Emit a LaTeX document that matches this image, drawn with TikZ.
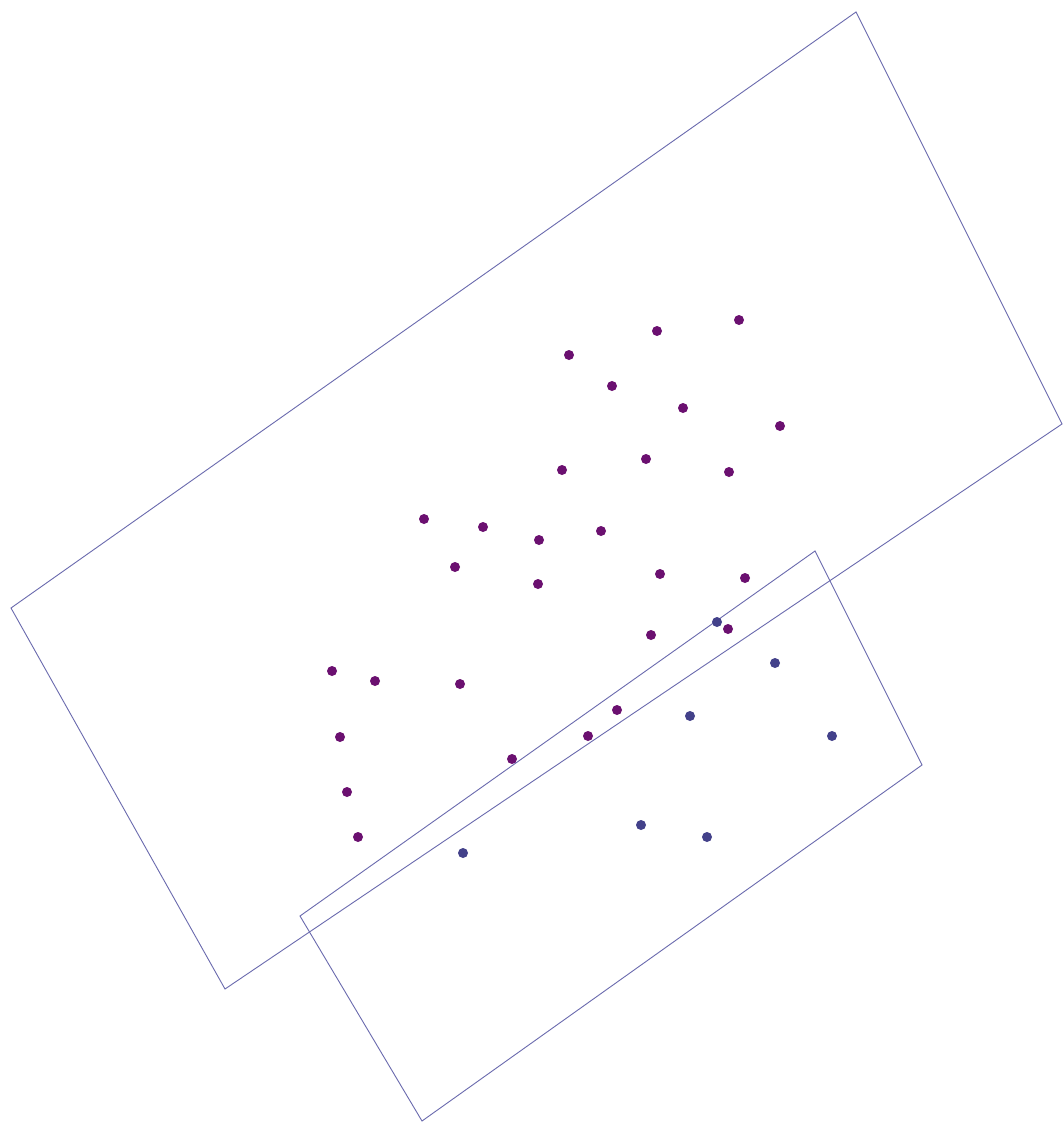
\documentclass[tikz,border=0pt]{standalone}
\definecolor{edge}{HTML}{6A6AAE}
\definecolor{pdot}{HTML}{6B1070}
\definecolor{bdot}{HTML}{43418A}
\begin{document}
\begin{tikzpicture}[x=1pt,y=-1pt,
  frame/.style={draw=edge,line width=0.9pt,line join=miter},
  pd/.style={circle,fill=pdot,inner sep=0pt,minimum size=10pt},
  bd/.style={circle,fill=bdot,inner sep=0pt,minimum size=10pt}]
\useasboundingbox[fill=white] (0,0) rectangle (1063,1124);
% big rectangle
\coordinate (A1) at (11,608);
\coordinate (A2) at (856,12);
\coordinate (A3) at (1062,424);
\coordinate (A4) at (225,989);
\draw[frame] (A1) -- (A2) -- (A3) -- (A4) -- cycle;
% small rectangle
\coordinate (B1) at (300,916);
\coordinate (B2) at (815,551);
\coordinate (B3) at (922,765);
\coordinate (B4) at (422,1121);
\draw[frame] (B1) -- (B2) -- (B3) -- (B4) -- cycle;
% purple dots
\foreach \x/\y [count=\i] in {569/355,657/331,739/320,612/386,683/408,780/426,562/470,646/459,729/472,424/519,483/527,539/540,601/531,455/567,538/584,660/574,745/578,651/635,728/629,332/671,375/681,460/684,340/737,617/710,588/736,512/759,347/792,358/837}
  \node[pd] (p\i) at (\x,\y) {};
% blue dots
\foreach \x/\y [count=\i] in {717/622,775/663,690/716,832/736,641/825,707/837,463/853}
  \node[bd] (b\i) at (\x,\y) {};
\end{tikzpicture}
\end{document}
